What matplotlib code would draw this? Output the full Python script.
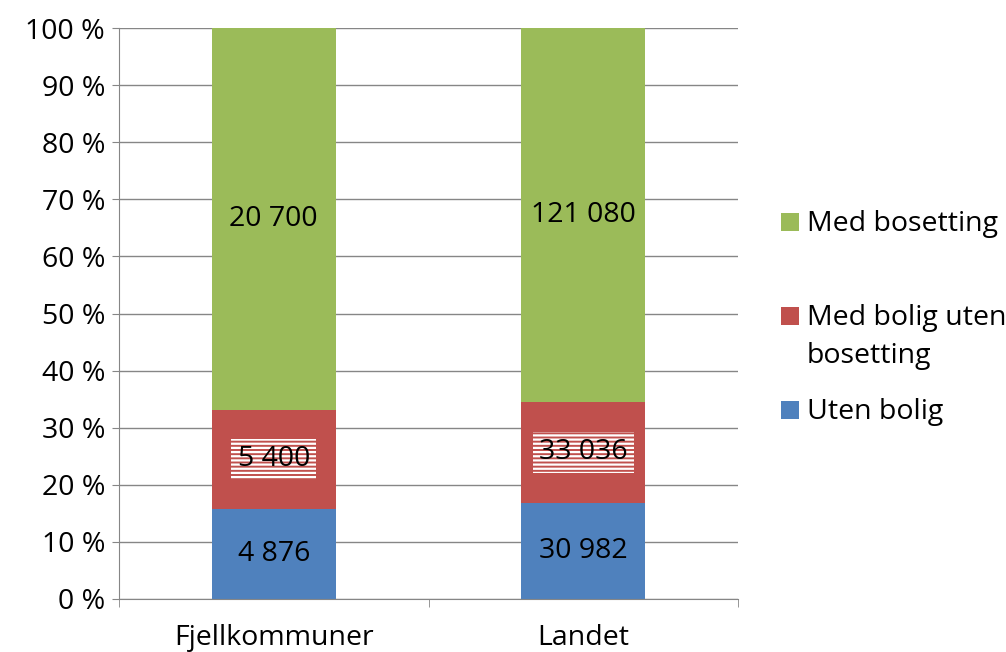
import matplotlib.pyplot as plt
from matplotlib.patches import Rectangle

plt.rcParams['font.family'] = ['Open Sans', 'DejaVu Sans']
plt.rcParams['hatch.linewidth'] = 1.6

# Data
categories = ["Fjellkommuner", "Landet"]
series_names = ["Uten bolig", "Med bolig uten\nbosetting", "Med bosetting"]
uten_bolig = [4876, 30982]
bolig_uten_bos = [5400, 33036]
med_bosetting = [20700, 121080]
value_labels = [["4 876", "30 982"], ["5 400", "33 036"], ["20 700", "121 080"]]
colors = ["#4F81BD", "#C0504D", "#9BBB59"]

series = [uten_bolig, bolig_uten_bos, med_bosetting]
totals = [sum(v) for v in zip(*series)]
pct = [[100 * s[i] / totals[i] for i in range(len(categories))] for s in series]

FS = 20.5

fig = plt.figure(figsize=(10.06, 6.52), dpi=100)
ax = fig.add_axes([0.1183, 0.0813, 0.7336 - 0.1183, 0.957 - 0.0813])

x = list(range(len(categories)))
bottom = [0.0] * len(categories)
for k, p in enumerate(pct):
    ax.bar(x, p, width=0.4, bottom=bottom, color=colors[k], zorder=2)
    for i in x:
        yc = bottom[i] + p[i] / 2
        if k == 1:
            ax.text(i, yc, value_labels[k][i], ha='center', va='center', fontsize=FS,
                    zorder=3,
                    bbox=dict(boxstyle='square,pad=0.22', facecolor=colors[1],
                              edgecolor='white', linewidth=0, hatch='----'))
        else:
            ax.text(i, yc, value_labels[k][i], ha='center', va='center', fontsize=FS, zorder=3)
    bottom = [b + q for b, q in zip(bottom, p)]

ax.set_xlim(-0.5, 1.5)
ax.set_ylim(0, 100)
ax.set_yticks(range(0, 101, 10))
ax.set_yticklabels([f"{v} %" for v in range(0, 101, 10)], fontsize=FS)
ax.set_xticks(x)
ax.set_xticklabels(categories, fontsize=FS)
ax.tick_params(axis='x', which='major', length=0, pad=18)
ax.set_xticks([-0.5, 0.5, 1.5], minor=True)
ax.tick_params(axis='x', which='minor', length=6, color='#868686')
ax.tick_params(axis='y', length=5, color='#868686', pad=5)
ax.grid(axis='y', color='#868686', linewidth=1, zorder=0)
ax.set_axisbelow(True)
for s in ['top', 'right']:
    ax.spines[s].set_visible(False)
for s in ['left', 'bottom']:
    ax.spines[s].set_color('#868686')

# Legend drawn manually (Excel-like layout)
W, H = 1006, 652
leg = [(series_names[2], colors[2], 222), (series_names[1], colors[1], 316), (series_names[0], colors[0], 410)]
for name, c, yc in leg:
    fig.add_artist(Rectangle((781 / W, 1 - (yc + 9) / H), 18 / W, 18 / H,
                             transform=fig.transFigure, facecolor=c, edgecolor='none'))
    fig.text(807 / W, 1 - (yc - 12) / H, name, fontsize=FS, ha='left', va='top',
             linespacing=1.5)

fig.savefig("out.png", dpi=100)
